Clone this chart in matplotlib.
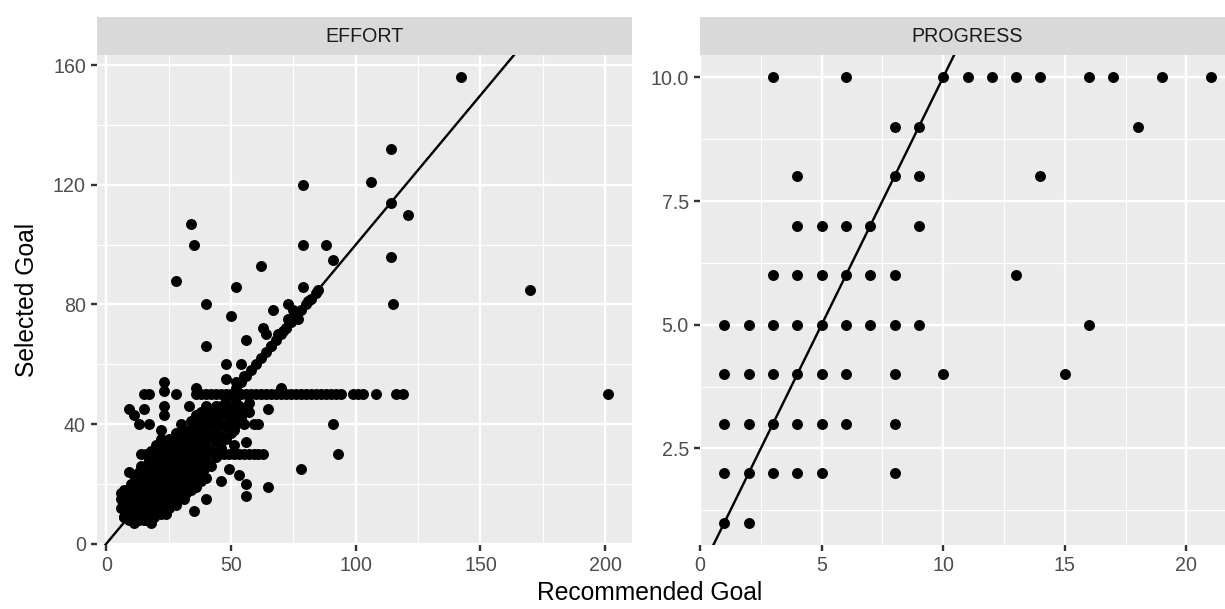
import matplotlib
matplotlib.use("Agg")
import matplotlib.pyplot as plt

plt.rcParams['font.family'] = ['Liberation Sans', 'DejaVu Sans']

# ---------------- data ----------------
panel_titles = ["EFFORT", "PROGRESS"]
x_label = "Recommended Goal"
y_label = "Selected Goal"

# EFFORT panel: scattered points (recommended, selected)
effort_scatter = [
    (142, 156), (114, 132), (79, 120), (106, 121), (114, 114), (121, 110), (34, 107),
    (35, 100), (79, 100), (88, 100), (91, 95), (114, 96), (62, 93), (28, 88), (52, 86),
    (79, 86), (84, 84), (170, 85), (115, 80), (40, 80), (50, 76), (67, 78), (63, 72),
    (64, 70), (71, 71), (40, 66), (56, 68), (48, 60), (54, 60), (48, 55), (36, 52),
    (23, 54), (23, 51), (70, 52), (23, 46), (23, 43), (15, 45), (9, 45), (11, 43),
    (13, 40), (17, 40), (22, 38), (22, 35), (30, 40), (33, 46), (40, 45), (47, 44),
    (53, 46), (65, 45), (55, 40), (59, 40), (61, 40), (51, 38), (56, 34), (51, 33),
    (91, 40), (93, 30), (78, 25), (49, 25), (53, 23), (56, 20), (46, 21), (56, 16),
    (65, 19), (40, 15), (35, 11), (31, 15), (24, 10), (15, 8), (18, 7), (6, 17), (7, 9),
    (9, 24), (201, 50), (73, 80), (76, 77), (81, 81), (73, 75), (77, 75), (72, 72),
    (75, 78), (66, 66), (69, 70), (52, 54), (55, 56),
]
# EFFORT panel: goals chosen equal to the recommendation
effort_same = [10, 12, 14, 16, 18, 20, 22, 24, 26, 28, 30, 32, 34, 36, 38, 40, 42, 44,
               46, 48, 50, 52, 54, 56, 58, 60, 62, 64, 66, 68, 70, 72, 74, 76, 78, 80, 82, 85]
# EFFORT panel: recommendations where 50 was selected
effort_sel50_x = [15, 17, 28, 36, 38, 40, 42, 44, 46, 48, 50, 52, 54, 56, 58, 60, 62, 64,
                  66, 68, 70, 72, 74, 76, 78, 80, 82, 84, 86, 88, 90, 92, 94, 99, 101, 103,
                  108, 116, 119]
# EFFORT panel: recommendations where 30 was selected
effort_sel30_x = [14, 16, 18, 20, 22, 24, 26, 28, 45, 47, 49, 51, 53, 55, 57, 59, 61, 63]
# EFFORT panel: dense cluster of low goals
effort_cluster = [
    (6, 12), (6, 15), (7, 9), (7, 13), (7, 18), (8, 11), (8, 16),
    (9, 8), (9, 14), (9, 18), (10, 10), (10, 16), (10, 20),
    (11, 7), (11, 12), (11, 18), (11, 23), (12, 9), (12, 14), (12, 21),
    (13, 8), (13, 11), (13, 16), (13, 19), (13, 24), (14, 13), (14, 18), (14, 22),
    (14, 26), (15, 10), (15, 15), (15, 20), (15, 24), (16, 8), (16, 12), (16, 17),
    (16, 22), (16, 26), (17, 10), (17, 14), (17, 19), (17, 24), (17, 28),
    (18, 12), (18, 16), (18, 21), (18, 26), (18, 31), (19, 9), (19, 14), (19, 18), (19, 23),
    (19, 28), (20, 11), (20, 16), (20, 20), (20, 25), (20, 33), (21, 13), (21, 18),
    (21, 23), (21, 27), (21, 31), (22, 10), (22, 15), (22, 20), (22, 25), (22, 29),
    (23, 12), (23, 17), (23, 22), (23, 27), (23, 32), (24, 14), (24, 19), (24, 24),
    (24, 28), (24, 33), (25, 12), (25, 16), (25, 21), (25, 26), (25, 31), (25, 35),
    (26, 14), (26, 18), (26, 23), (26, 28), (26, 33), (27, 16), (27, 20), (27, 25),
    (27, 30), (27, 35), (28, 13), (28, 18), (28, 22), (28, 27), (28, 32), (28, 37),
    (29, 15), (29, 20), (29, 25), (29, 29), (29, 34), (30, 17), (30, 22), (30, 27),
    (30, 32), (30, 36), (31, 19), (31, 24), (31, 29), (31, 34), (31, 38), (32, 17), (32, 21),
    (32, 26), (32, 31), (32, 36), (33, 20), (33, 25), (33, 29), (33, 33), (33, 38),
    (34, 18), (34, 23), (34, 28), (34, 32), (34, 37), (34, 41), (35, 21), (35, 26),
    (35, 31), (35, 35), (35, 40), (36, 19), (36, 24), (36, 29), (36, 34), (36, 38),
    (36, 43), (37, 23), (37, 27), (37, 32), (37, 37), (37, 41), (38, 21), (38, 26),
    (38, 31), (38, 36), (38, 40), (38, 44), (39, 25), (39, 29), (39, 34), (39, 39), (39, 43),
    (40, 22), (40, 28), (40, 33), (40, 37), (40, 42), (40, 46), (42, 26), (42, 31),
    (42, 36), (42, 40), (42, 44), (44, 29), (44, 34), (44, 38), (44, 42), (44, 46),
    (46, 32), (46, 36), (46, 40), (46, 44), (48, 35), (48, 39), (48, 43), (48, 46),
    (50, 37), (50, 41), (50, 45), (52, 40), (52, 43), (52, 47), (54, 42), (54, 45),
    (57, 44), (57, 47),
]

# PROGRESS panel points (recommended, selected)
progress_pts = [
    (3, 10), (6, 10), (10, 10), (11, 10), (12, 10), (13, 10), (14, 10), (16, 10), (17, 10),
    (19, 10), (21, 10),
    (8, 9), (9, 9), (18, 9),
    (4, 8), (8, 8), (9, 8), (14, 8),
    (4, 7), (5, 7), (6, 7), (7, 7), (9, 7),
    (3, 6), (4, 6), (5, 6), (6, 6), (7, 6), (8, 6), (13, 6),
    (1, 5), (2, 5), (3, 5), (4, 5), (5, 5), (6, 5), (7, 5), (8, 5), (9, 5), (16, 5),
    (1, 4), (2, 4), (3, 4), (4, 4), (5, 4), (6, 4), (8, 4), (10, 4), (15, 4),
    (1, 3), (2, 3), (3, 3), (4, 3), (5, 3), (6, 3), (8, 3),
    (1, 2), (2, 2), (3, 2), (4, 2), (5, 2), (8, 2),
    (1, 1), (2, 1),
]

effort_xticks = [0, 50, 100, 150, 200]
effort_yticks = [0, 40, 80, 120, 160]
progress_xticks = [0, 5, 10, 15, 20]
progress_yticks = [2.5, 5.0, 7.5, 10.0]
progress_yticklabels = ["2.5", "5.0", "7.5", "10.0"]

# ---------------- assemble ----------------
ex = [p[0] for p in effort_scatter] + effort_same + effort_sel50_x + effort_sel30_x + \
     [p[0] for p in effort_cluster]
ey = [p[1] for p in effort_scatter] + effort_same + [50] * len(effort_sel50_x) + \
     [30] * len(effort_sel30_x) + [p[1] for p in effort_cluster]
px = [p[0] for p in progress_pts]
py = [p[1] for p in progress_pts]

# ---------------- style ----------------
W, H = 1225, 609
DPI = 100
S = 1.61  # ggplot pt -> pt at this dpi
fig = plt.figure(figsize=(W / DPI, H / DPI), dpi=DPI)

PANEL_BG = "#EBEBEB"
STRIP_BG = "#D9D9D9"
TICK_TXT = "#4D4D4D"
TICK_COL = "#333333"


def px2fig(x0, x1, ytop, ybot):
    return [x0 / W, 1 - ybot / H, (x1 - x0) / W, (ybot - ytop) / H]


def expand(vals, f=0.05):
    lo, hi = min(vals), max(vals)
    r = hi - lo
    return lo - f * r, hi + f * r


def minor_between(ticks, lim):
    step = ticks[1] - ticks[0]
    out = []
    for t in [ticks[0] - step] + list(ticks):
        m = t + step / 2
        if lim[0] <= m <= lim[1]:
            out.append(m)
    return out


PANEL_TOP, PANEL_BOT = 55, 545
STRIP_TOP = 17
panels = [(97, 632), (700, 1235)]

datasets = [(ex, ey, effort_xticks, effort_yticks, [str(t) for t in effort_yticks]),
            (px, py, progress_xticks, progress_yticks, progress_yticklabels)]

for (x0, x1), title, (xs, ys, xt, yt, ytl) in zip(panels, panel_titles, datasets):
    ax = fig.add_axes(px2fig(x0, x1, PANEL_TOP, PANEL_BOT))
    ax.set_facecolor(PANEL_BG)
    for s in ax.spines.values():
        s.set_visible(False)
    xl = expand(xs)
    yl = expand(ys)
    ax.set_xlim(*xl)
    ax.set_ylim(*yl)
    ax.set_xticks(xt)
    ax.set_xticklabels([str(t) for t in xt])
    ax.set_yticks(yt)
    ax.set_yticklabels(ytl)
    ax.set_xticks(minor_between(xt, xl), minor=True)
    ax.set_yticks(minor_between(yt, yl), minor=True)
    ax.set_axisbelow(True)
    ax.grid(which="major", color="white", linewidth=1.07 * S)
    ax.grid(which="minor", color="white", linewidth=0.53 * S)
    ax.tick_params(which="major", length=2.75 * S, width=1.07 * S, color=TICK_COL,
                   labelcolor=TICK_TXT, labelsize=8.8 * S, pad=2.2 * S)
    ax.tick_params(which="minor", length=0)
    ax.scatter(xs, ys, s=(4.9 * S) ** 2, color="black", linewidths=0, zorder=3)
    ax.axline((0, 0), slope=1, color="black", linewidth=1.07 * S, zorder=4)

    sax = fig.add_axes(px2fig(x0, x1, STRIP_TOP, PANEL_TOP))
    sax.set_facecolor(STRIP_BG)
    sax.set_xticks([])
    sax.set_yticks([])
    for s in sax.spines.values():
        s.set_visible(False)
    sax.text(0.5, 0.5, title, ha="center", va="center", fontsize=8.8 * S,
             color="#1A1A1A", transform=sax.transAxes)

fig.text(27 / W, 1 - 300 / H, y_label, rotation=90, ha="center", va="center",
         fontsize=11 * S, color="black")
fig.text(650 / W, 1 - 593 / H, x_label, ha="center", va="center",
         fontsize=11 * S, color="black")

fig.savefig("out.png", dpi=DPI)
